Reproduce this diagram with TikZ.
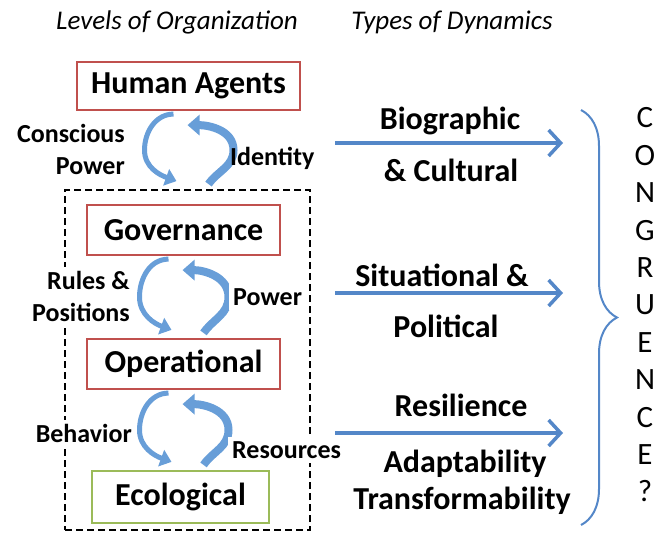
\documentclass[tikz,border=0pt]{standalone}
\usepackage{fontspec}
\setmainfont{Carlito}
\usepackage{xcolor}
\usepackage{tikz}
\definecolor{boxred}{RGB}{192, 80, 77}
\definecolor{boxgreen}{RGB}{155, 187, 89}
\definecolor{flowblue}{RGB}{84, 135, 200}
\definecolor{cycleblue}{RGB}{104, 158, 216}
\usetikzlibrary{arrows.meta,positioning,calc,decorations.pathreplacing}

\begin{document}
\begin{tikzpicture}[
    x=1pt, y=1pt,
    levelbox/.style={
        rectangle,
        draw=boxred,
        line width=2.2pt,
        fill=white,
        minimum width=193pt,
        minimum height=50pt,
        inner sep=0pt,
        font=\fontsize{32}{36}\selectfont\bfseries
    },
    looplabel/.style={font=\fontsize{26}{32}\selectfont\bfseries, align=right, inner sep=4pt},
    dyn/.style={font=\fontsize{32}{36}\selectfont\bfseries, anchor=base, inner sep=0pt},
    heading/.style={font=\fontsize{27}{30}\selectfont\itshape},
    coreframe/.style={draw=black, line width=1.8pt, dash pattern=on 7pt off 4pt},
    cycleback/.style={cycleblue, line width=5pt, -{Triangle[width=17pt,length=11pt]}},
    cyclefwd/.style={cycleblue, line width=8pt, -{Triangle[width=20pt,length=12pt]}},
    flow/.style={flowblue, line width=3.5pt, -{Straight Barb[length=12pt,width=26pt]}}
]
    \useasboundingbox (0,0) rectangle (660,-536);

    % Headings
    \node[heading] (hlevels) at (177,-22) {Levels of Organization};
    \node[heading] (hdyn) at (452,-22) {Types of Dynamics};

    % Levels
    \node[coreframe, minimum width=245pt, minimum height=340pt] (core) at (187.5,-360) {};
    \node[levelbox, minimum width=223pt, minimum height=48pt] (hum) at (188.5,-86) {Human Agents};
    \node[levelbox] (gov) at (183.5,-230) {Governance};
    \node[levelbox] (op) at (183.5,-364) {Operational};
    \node[levelbox, draw=boxgreen, minimum width=177pt, minimum height=52pt] (eco) at (180.5,-497) {Ecological};

    % Cycles between levels
    \foreach \up/\down in {hum/core, gov/op, op/eco} {
        \coordinate (mid) at ($(\up.south)!0.5!(\up.south |- \down.north)$);
        \draw[cycleback] ([xshift=-15pt,yshift=-3pt]\up.south)
            to[out=180,in=90] ([xshift=-44pt]mid)
            to[out=-90,in=160] ([xshift=-12pt,yshift=8pt]\up.south |- \down.north);
        \draw[cyclefwd] ([xshift=20pt,yshift=5pt]\up.south |- \down.north)
            to[out=55,in=-90] ([xshift=45pt]mid)
            to[out=90,in=0] ([xshift=-1pt,yshift=-14pt]\up.south);
    }

    % Cycle labels
    \node[looplabel, anchor=east] (consc) at (129,-149) {Conscious\\Power};
    \node[looplabel, anchor=west] (ident) at (226,-158) {Identity};
    \node[looplabel, anchor=east, fill=white] (rules) at (134,-296) {Rules \&\\Positions};
    \node[looplabel, anchor=west, fill=white] (power) at (229,-297) {Power};
    \node[looplabel, anchor=east, fill=white] (behav) at (136,-433) {Behavior};
    \node[looplabel, anchor=west, fill=white] (resou) at (228,-450) {Resources};

    % Types of dynamics
    \node[dyn] (bio) at (450,-129) {Biographic};
    \node[dyn] (cult) at (451,-181) {\& Cultural};
    \node[dyn] (situ) at (442,-286) {Situational \&};
    \node[dyn] (poli) at (446,-337) {Political};
    \node[dyn] (resi) at (461,-416) {Resilience};
    \node[dyn] (adap) at (465,-472) {Adaptability};
    \node[dyn] (trans) at (462,-509) {Transformability};

    \coordinate (f1s) at (335,-143);
    \coordinate (f1e) at (563,-143);
    \coordinate (f2s) at (335,-293);
    \coordinate (f2e) at (563,-293);
    \coordinate (f3s) at (335,-433);
    \coordinate (f3e) at (563,-433);
    \draw[flow] (f1s) -- (f1e);
    \draw[flow] (f2s) -- (f2e);
    \draw[flow] (f3s) -- (f3e);

    % Brace
    \coordinate (bracetop) at (581,-110);
    \coordinate (bracebot) at (581,-525);
    \draw[flowblue, line width=2pt, decorate, decoration={brace, amplitude=36pt}] (bracetop) -- (bracebot);
    \node[font=\fontsize{31}{37.4}\selectfont, align=center] (congr) at (645,-305) {C\\O\\N\\G\\R\\U\\E\\N\\C\\E\\?};
\end{tikzpicture}
\end{document}
